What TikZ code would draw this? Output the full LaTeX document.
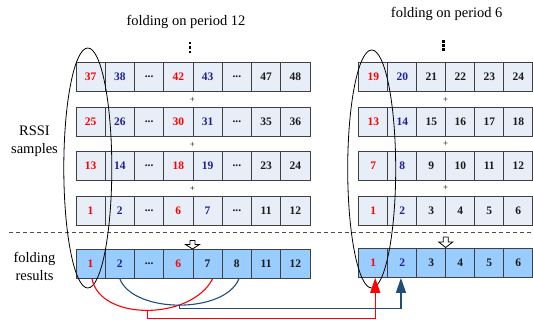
\documentclass[tikz,border=0pt]{standalone}
\usepackage{fontspec}
\setmainfont{Liberation Serif}
\usetikzlibrary{arrows.meta}
\definecolor{cellfill}{HTML}{E8EEF8}
\definecolor{resfill}{HTML}{99CCFF}
\definecolor{cellline}{HTML}{404040}
\definecolor{tred}{HTML}{FF0000}
\definecolor{tblue}{HTML}{1F1F99}
\definecolor{tblack}{HTML}{1A1A1A}
\definecolor{conblue}{HTML}{1F4E79}
\newcommand{\cdts}{...}
\tikzset{
  cellbox/.style={draw=cellline, line width=0.9pt, fill=cellfill, minimum height=29pt,
    inner sep=0pt, anchor=north west, font=\bfseries\fontsize{11.5}{13}\selectfont},
  lcell/.style={cellbox, minimum width=29.25pt},
  rcell/.style={cellbox, minimum width=29pt},
  resbox/.style={fill=resfill},
  titletext/.style={font=\fontsize{14.5}{17}\selectfont, inner sep=0pt},
  sidelabel/.style={font=\fontsize{14.5}{17.5}\selectfont, align=center, inner sep=0pt},
  plussign/.style={font=\fontsize{9}{9}\selectfont, inner sep=0pt},
  vdot/.style={fill=black, minimum size=2.2pt, inner sep=0pt, rectangle},
  hollowarrow/.style={draw=black, fill=white, line width=0.8pt, line join=miter},
  oval/.style={draw=black, line width=0.8pt},
  redcon/.style={draw=tred, line width=1.1pt},
  bluecon/.style={draw=conblue, line width=1.1pt},
  sep/.style={draw=black!70, line width=0.9pt, dash pattern=on 4pt off 3pt}
}
\begin{document}
\begin{tikzpicture}[x=1pt,y=-1pt]
\useasboundingbox (0,0) rectangle (533,320);

% titles
\node[titletext] (t12) at (186,22) {folding on period 12};
\node[titletext] (t6) at (446.7,14) {folding on period 6};

% side labels
\node[sidelabel] (rssi) at (34.5,141) {RSSI\\samples};
\node[sidelabel] (fres) at (34.5,266.5) {folding\\results};

% left sample rows
\foreach \rr/\yy/\pa/\pb/\pc/\pd/\pe/\pf in {1/62/37/38/42/43/47/48, 2/106.6/25/26/30/31/35/36,
    3/151.2/13/14/18/19/23/24, 4/195.8/1/2/6/7/11/12} {
  \foreach \tt/\col [count=\i from 0] in {\pa/tred, \pb/tblue, \cdts/tblack, \pc/tred,
      \pd/tblue, \cdts/tblack, \pe/tblack, \pf/tblack}
    \node[lcell, text=\col] (L-\rr-\i) at ({75.5+29.25*\i}, \yy) {\tt};
}
% left results
\foreach \tt/\col [count=\i from 0] in {1/tred, 2/tblue, \cdts/tblack, 6/tred, 7/tblack,
    8/tblack, 11/tblack, 12/tblack}
  \node[lcell, resbox, text=\col] (LR-\i) at ({75.5+29.25*\i}, 249) {\tt};

% right sample rows
\foreach \rr/\yy/\st in {1/62/19, 2/106.6/13, 3/151.2/7, 4/195.8/1} {
  \foreach \col [count=\i from 0] in {tred, tblue, tblack, tblack, tblack, tblack} {
    \pgfmathtruncatemacro{\vv}{\st+\i}
    \node[rcell, text=\col] (R-\rr-\i) at ({358.3+29*\i}, \yy) {\vv};
  }
}
% right results
\foreach \col [count=\i from 0] in {tred, tblue, tblack, tblack, tblack, tblack} {
  \pgfmathtruncatemacro{\vv}{1+\i}
  \node[rcell, resbox, text=\col] (RR-\i) at ({358.3+29*\i}, 248) {\vv};
}

% plus signs
\node[plussign] (pl1) at (192.5,100) {+};
\node[plussign] (pl2) at (192.5,144.5) {+};
\node[plussign] (pl3) at (192.5,189) {+};
\node[plussign] (pr1) at (445.7,100) {+};
\node[plussign] (pr2) at (445.7,144) {+};
\node[plussign] (pr3) at (445.7,188) {+};

% vertical dots
\foreach \k/\yy in {1/43.3, 2/47.5, 3/51.7}
  \node[vdot] (vl-\k) at (190,\yy) {};
\foreach \k/\yy in {1/41.5, 2/45.5, 3/49.5}
  \node[vdot] (vr-\k) at (443.5,\yy) {};

% separator
\draw[sep] (9,232.7) -- (533,232.7);

% hollow arrows
\draw[hollowarrow] (190,240.5) -- (195,240.5) -- (195,244.5) -- (199.5,244.5) -- (192.5,249)
  -- (185.5,244.5) -- (190,244.5) -- cycle;
\draw[hollowarrow] (443.2,237) -- (448.2,237) -- (448.2,242) -- (452.7,242) -- (445.7,247.5)
  -- (438.7,242) -- (443.2,242) -- cycle;

% ellipses
\draw[oval] (87.8,168) ellipse [x radius=24, y radius=120];
\draw[oval] (371.7,169) ellipse [x radius=24, y radius=119];

% connectors
\draw[redcon] ([xshift=1.5pt]LR-0.south) .. controls +(8,42) and +(-22,42) ..
  ([xshift=5pt]LR-4.south) coordinate[pos=0.5] (redlow);
\draw[bluecon] (LR-1.south) .. controls +(14,35) and +(-14,35) ..
  ([xshift=2pt]LR-5.south) coordinate[pos=0.5] (bluelow);
\coordinate (redbase) at ([xshift=2pt,yshift=-40.5pt]RR-0.south);
\coordinate (bluebase) at ([xshift=-1.3pt,yshift=-31pt]RR-1.south);
\draw[redcon, -{Triangle[width=10pt,length=15pt]}] (redlow) |- (redbase) -- ([xshift=2pt]RR-0.south);
\draw[bluecon, -{Triangle[width=10pt,length=15pt]}] (bluelow) |- (bluebase) -- ([xshift=-1.3pt]RR-1.south);
\end{tikzpicture}
\end{document}
